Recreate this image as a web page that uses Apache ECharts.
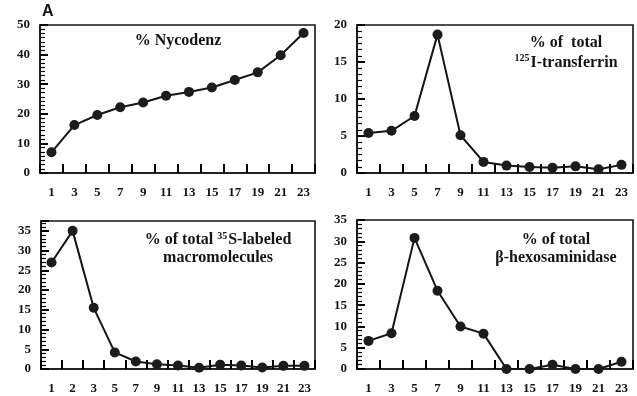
<!DOCTYPE html>
<html><head><meta charset="utf-8">
<script src="https://cdn.jsdelivr.net/npm/echarts@6/dist/echarts.min.js"></script>
<style>html,body{margin:0;padding:0;background:#fff}#c{width:637px;height:396px}</style>
</head><body><div id="c"></div>
<script>
const fractionsOdd = ['1','3','5','7','9','11','13','15','17','19','21','23'];
const fractions35S = ['1','2','3','5','7','9','11','13','15','17','19','21','23'];
const nycodenz = [7, 16.2, 19.6, 22.2, 23.8, 26.1, 27.4, 28.9, 31.4, 34, 39.8, 47.3];
const transferrin = [5.4, 5.7, 7.7, 18.7, 5.1, 1.5, 1.0, 0.8, 0.7, 0.9, 0.5, 1.1];
const sulfateLabeled = [27, 35, 15.5, 4.2, 1.9, 1.2, 0.9, 0.3, 1.1, 0.9, 0.4, 0.8, 0.8];
const hexosaminidase = [6.6, 8.4, 30.8, 18.4, 10, 8.3, 0, 0, 1.0, 0, 0, 1.7];

const chart = echarts.init(document.getElementById('c'), null, {renderer:'canvas'});
const serif = '"Liberation Serif", "Times New Roman", serif';
const ink = '#141414';
const lab = {fontFamily: serif, fontWeight: 'bold', fontSize: 13, color: ink};

const grids = [
  {left: 40, top: 25, width: 275, height: 148},
  {left: 357, top: 25, width: 276, height: 148},
  {left: 41, top: 221, width: 274, height: 148},
  {left: 357, top: 220, width: 276, height: 149}
].map(g => Object.assign({show: true, borderColor: ink, borderWidth: 1.6, backgroundColor: 'transparent'}, g));

function xa(i, cats) {
  return {gridIndex: i, type: 'category', data: cats,
    axisLine: {show: true, lineStyle: {color: ink, width: 1.6}},
    axisTick: {show: true, inside: true, length: 9, lineStyle: {color: '#000', width: 2}},
    axisLabel: Object.assign({margin: 13}, lab)};
}
function ya(i, max, interval, minorSplit) {
  return {gridIndex: i, type: 'value', min: 0, max: max, interval: interval,
    axisLine: {show: true, lineStyle: {color: ink, width: 1.6}},
    axisTick: {show: true, inside: true, length: 8, lineStyle: {color: '#000', width: 2}},
    minorTick: {show: true, splitNumber: minorSplit, length: 5, lineStyle: {color: '#000', width: 1.2}},
    axisLabel: Object.assign({margin: 10, formatter: v => (v % interval === 0 ? String(v) : '')}, lab),
    splitLine: {show: false}};
}
function ser(i, data) {
  return {type: 'line', xAxisIndex: i, yAxisIndex: i, data: data, clip: false,
    symbol: 'circle', symbolSize: 10, showAllSymbol: true,
    itemStyle: {color: '#1c1c1c'},
    lineStyle: {color: ink, width: 2}};
}

const rich = {sup: {fontSize: 10, fontWeight: 'bold', fontFamily: serif, verticalAlign: 'top', padding: [0, 1, 8, 0], color: ink},
              n: {fontSize: 16, fontWeight: 'bold', fontFamily: serif, color: ink}};
function ttl(text, cx, top, lh) {
  return {text: text, left: cx, top: top, textAlign: 'center', padding: 0, itemGap: 0,
    textStyle: {fontFamily: serif, fontWeight: 'bold', fontSize: 16, color: ink, lineHeight: lh, rich: rich}};
}

chart.setOption({
  animation: false,
  title: [
    {text: 'A', left: 42, top: 4, padding: 0, textStyle: {fontFamily: '"Liberation Sans", Arial, sans-serif', fontWeight: 'bold', fontSize: 16, color: ink}},
    ttl('{n|% Nycodenz}', 178, 32, 18),
    ttl('{n|% of  total}\n{sup|125}{n|I-transferrin}', 566, 33, 20),
    ttl('{n|% of total }{sup|35}{n|S-labeled}\n{n|macromolecules}', 218, 231, 18),
    ttl('{n|% of total}\n{n|β-hexosaminidase}', 556, 231, 18)
  ],
  grid: grids,
  xAxis: [xa(0, fractionsOdd), xa(1, fractionsOdd), xa(2, fractions35S), xa(3, fractionsOdd)],
  yAxis: [ya(0, 50, 10, 7), ya(1, 20, 5, 6), ya(2, 37.5, 5, 5), ya(3, 35, 5, 5)],
  series: [ser(0, nycodenz), ser(1, transferrin), ser(2, sulfateLabeled), ser(3, hexosaminidase)]
});
</script></body></html>
